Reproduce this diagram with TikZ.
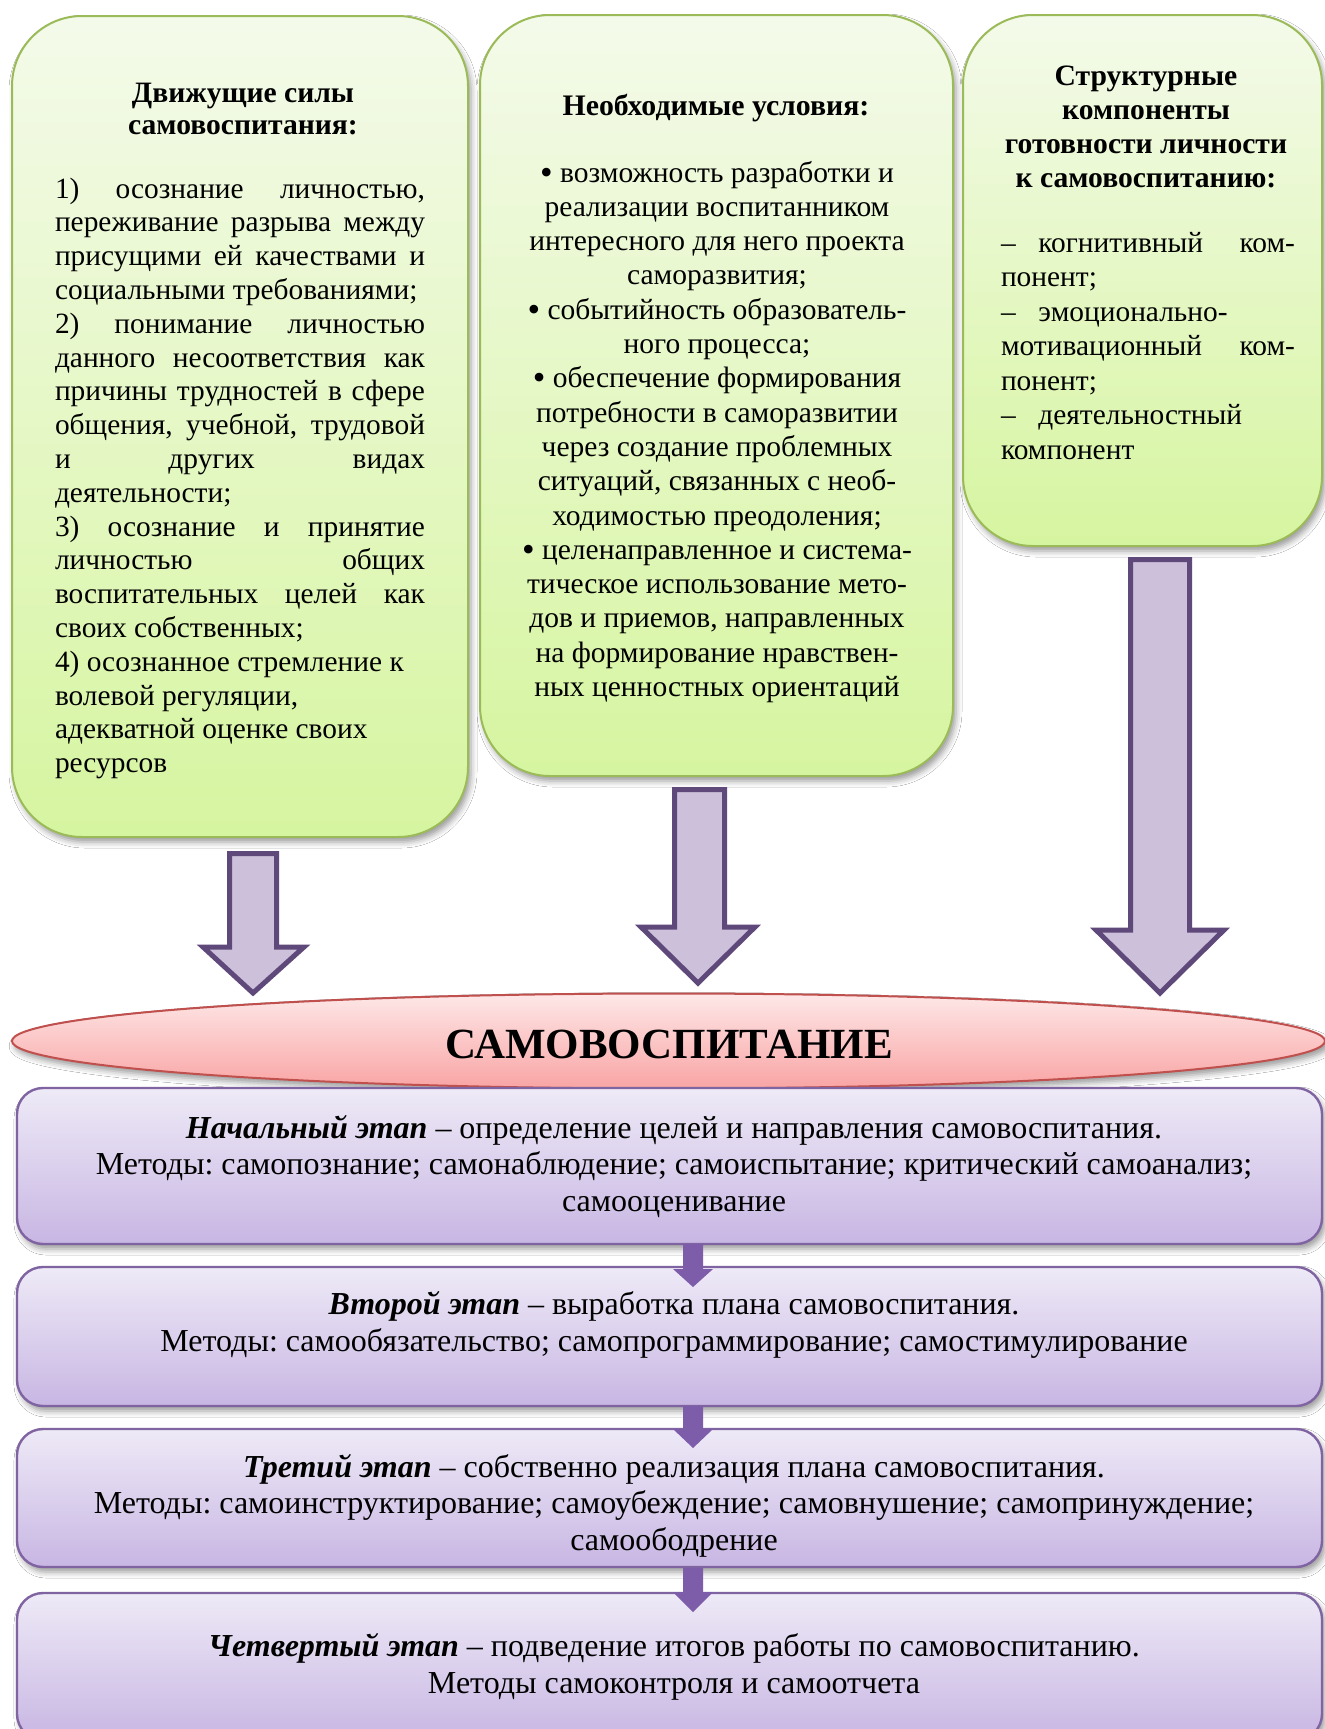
\documentclass[tikz,border=0pt]{standalone}
\usepackage{fontspec}
\setmainfont{Liberation Serif}
\usetikzlibrary{shapes.geometric,shadows.blur,calc}
\frenchspacing
\definecolor{grtop}{HTML}{F4FAEA}
\definecolor{grbot}{HTML}{D6F5A0}
\definecolor{grbord}{HTML}{9BBB59}
\definecolor{arfill}{HTML}{CCC0DA}
\definecolor{arbord}{HTML}{5F497A}
\definecolor{eltop}{HTML}{FEE8E8}
\definecolor{elbot}{HTML}{F9A4A4}
\definecolor{elbord}{HTML}{C0504D}
\definecolor{sttop}{HTML}{EEEAF7}
\definecolor{stbot}{HTML}{C8B6E3}
\definecolor{stbord}{HTML}{8064A2}
\definecolor{smarr}{HTML}{7D5CA9}
\newcommand\jusline[1]{\makebox[\linewidth][s]{#1}\\}
\newcommand\dashgap{\makebox[18.7pt][l]{–}}
\newcommand\bul{{\fontsize{18}{0}\selectfont\raisebox{-0.06em}{•}}}
\tikzset{
  greenbox/.style={draw=grbord, line width=1pt, rounded corners=35pt,
    top color=grtop, bottom color=grbot, inner sep=0pt,
    blur shadow={shadow xshift=1.5pt, shadow yshift=-2.5pt, shadow blur radius=3pt, shadow opacity=40}},
  stagebox/.style={draw=stbord, line width=1.2pt, rounded corners=13pt,
    top color=sttop, bottom color=stbot, inner sep=0pt, minimum width=652.5pt,
    blur shadow={shadow xshift=1.5pt, shadow yshift=-2.5pt, shadow blur radius=3pt, shadow opacity=40}},
  bigarrow/.style={draw=arbord, fill=arfill, line width=2.5pt, line join=miter},
  smallarrow/.style={fill=smarr},
  ellbox/.style={ellipse, draw=elbord, line width=1pt, top color=eltop, bottom color=elbot, inner sep=0pt,
    blur shadow={shadow xshift=1.5pt, shadow yshift=-2.5pt, shadow blur radius=3pt, shadow opacity=40}},
  txt/.style={inner sep=0pt, outer sep=0pt},
}
\begin{document}
\begin{tikzpicture}[x=0.5pt,y=-0.5pt]
\useasboundingbox[fill=white] (0,0) rectangle (1325,1729);
% green boxes
\node[greenbox, minimum width=228pt, minimum height=410.5pt] (b1) at (240,426.5) {};
\node[greenbox, minimum width=236.5pt, minimum height=380.5pt] (b2) at (716.5,395.5) {};
\node[greenbox, minimum width=179.5pt, minimum height=265.5pt] (b3) at (1142.5,280.5) {};
% ellipse
\node[ellbox, minimum width=656.5pt, minimum height=47.5pt] (e) at (668.5,1041) {};
% big arrows
\draw[bigarrow] (229.5,853.5) -- (276.5,853.5) -- (276.5,947) -- (304,947) -- (253,993) -- (203,947) -- (229.5,947) -- cycle;
\draw[bigarrow] (674.5,789.5) -- (724.5,789.5) -- (724.5,927) -- (755,927) -- (698,983) -- (641,927) -- (674.5,927) -- cycle;
\draw[bigarrow] (1130.5,559.5) -- (1189.5,559.5) -- (1189.5,930) -- (1224,930) -- (1160,993) -- (1096,930) -- (1130.5,930) -- cycle;
% stage boxes
\node[stagebox, minimum height=78pt] (s1) at (669.5,1166) {};
\node[stagebox, minimum height=69.5pt] (s2) at (669.5,1336.5) {};
\node[stagebox, minimum height=69pt] (s3) at (669.5,1498) {};
\node[stagebox, minimum height=73.5pt] (s4) at (669.5,1666.5) {};
% small arrows
\fill[smallarrow] (683,1244) -- (703,1244) -- (703,1269) -- (713,1269) -- (693,1287) -- (673,1269) -- (683,1269) -- cycle;
\fill[smallarrow] (683,1406) -- (703,1406) -- (703,1429) -- (713,1429) -- (693,1448) -- (673,1429) -- (683,1429) -- cycle;
\fill[smallarrow] (683,1568) -- (703,1568) -- (703,1592) -- (713,1592) -- (693,1612) -- (673,1592) -- (683,1592) -- cycle;
% box 1 text
\node[txt, anchor=base] (b1h) at (243,102) {\parbox[t]{200pt}{\centering\fontsize{14.8}{16.2}\selectfont\bfseries
Движущие силы\\самовоспитания:}};
\node[txt, anchor=base west] (b1b) at (55,198) {\parbox[t]{185pt}{\fontsize{14.7}{16.9}\selectfont
\jusline{1) осознание личностью,}
\jusline{переживание разрыва между}
\jusline{присущими ей качествами и}
социальными требованиями;\\
\jusline{2) понимание личностью}
\jusline{данного несоответствия как}
\jusline{причины трудностей в сфере}
\jusline{общения, учебной, трудовой}
\jusline{и других видах}
деятельности;\\
\jusline{3) осознание и принятие}
\jusline{личностью общих}
\jusline{воспитательных целей как}
своих собственных;\\
4) осознанное стремление к\\
волевой регуляции,\\
адекватной оценке своих\\
ресурсов}};
% box 2 text
\node[txt, anchor=base] (b2h) at (716,115) {\fontsize{14.9}{17}\selectfont\bfseries Необходимые условия:};
\node[txt, anchor=base] (b2b) at (717,182) {\parbox[t]{210pt}{\centering\fontsize{14.75}{17.15}\selectfont
\bul{} возможность разработки и\\
реализации воспитанником\\
интересного для него проекта\\
саморазвития;\\
\bul{} событийность образователь-\\
ного процесса;\\
\bul{} обеспечение формирования\\
потребности в саморазвитии\\
через создание проблемных\\
ситуаций, связанных с необ-\\
ходимостью преодоления;\\
\bul{} целенаправленное и система-\\
тическое использование мето-\\
дов и приемов, направленных\\
на формирование нравствен-\\
ных ценностных ориентаций}};
% box 3 text
\node[txt, anchor=base] (b3h) at (1146,85) {\parbox[t]{170pt}{\centering\fontsize{14.8}{17}\selectfont\bfseries
Структурные\\компоненты\\готовности личности\\к самовоспитанию:}};
\node[txt, anchor=base west] (b3b) at (1001,252) {\parbox[t]{147pt}{\fontsize{14.7}{17.25}\selectfont
\makebox[\linewidth][s]{\dashgap когнитивный\hfill ком-}\\
понент;\\
\dashgap эмоционально-\\
\makebox[\linewidth][s]{мотивационный\hfill ком-}\\
понент;\\
\dashgap деятельностный\\
компонент}};
% ellipse text
\node[txt, anchor=base] (et) at (669,1058) {\fontsize{21.5}{26}\selectfont\bfseries САМОВОСПИТАНИЕ};
% stage texts
\node[txt, anchor=base] (s1t) at (674,1138) {\parbox[t]{650pt}{\centering\fontsize{16}{18.3}\selectfont
\textbf{\textit{Начальный этап}} – определение целей и направления самовоспитания.\\
Методы: самопознание; самонаблюдение; самоиспытание; критический самоанализ;\\
самооценивание}};
\node[txt, anchor=base] (s2t) at (674,1314) {\parbox[t]{650pt}{\centering\fontsize{16}{18.5}\selectfont
\textbf{\textit{Второй этап}} – выработка плана самовоспитания.\\
Методы: самообязательство; самопрограммирование; самостимулирование}};
\node[txt, anchor=base] (s3t) at (674,1477) {\parbox[t]{650pt}{\centering\fontsize{16}{18.3}\selectfont
\textbf{\textit{Третий этап}} – собственно реализация плана самовоспитания.\\
Методы: самоинструктирование; самоубеждение; самовнушение; самопринуждение;\\
самоободрение}};
\node[txt, anchor=base] (s4t) at (674,1656) {\parbox[t]{650pt}{\centering\fontsize{16}{18.5}\selectfont
\textbf{\textit{Четвертый этап}} – подведение итогов работы по самовоспитанию.\\
Методы самоконтроля и самоотчета}};
\end{tikzpicture}
\end{document}
